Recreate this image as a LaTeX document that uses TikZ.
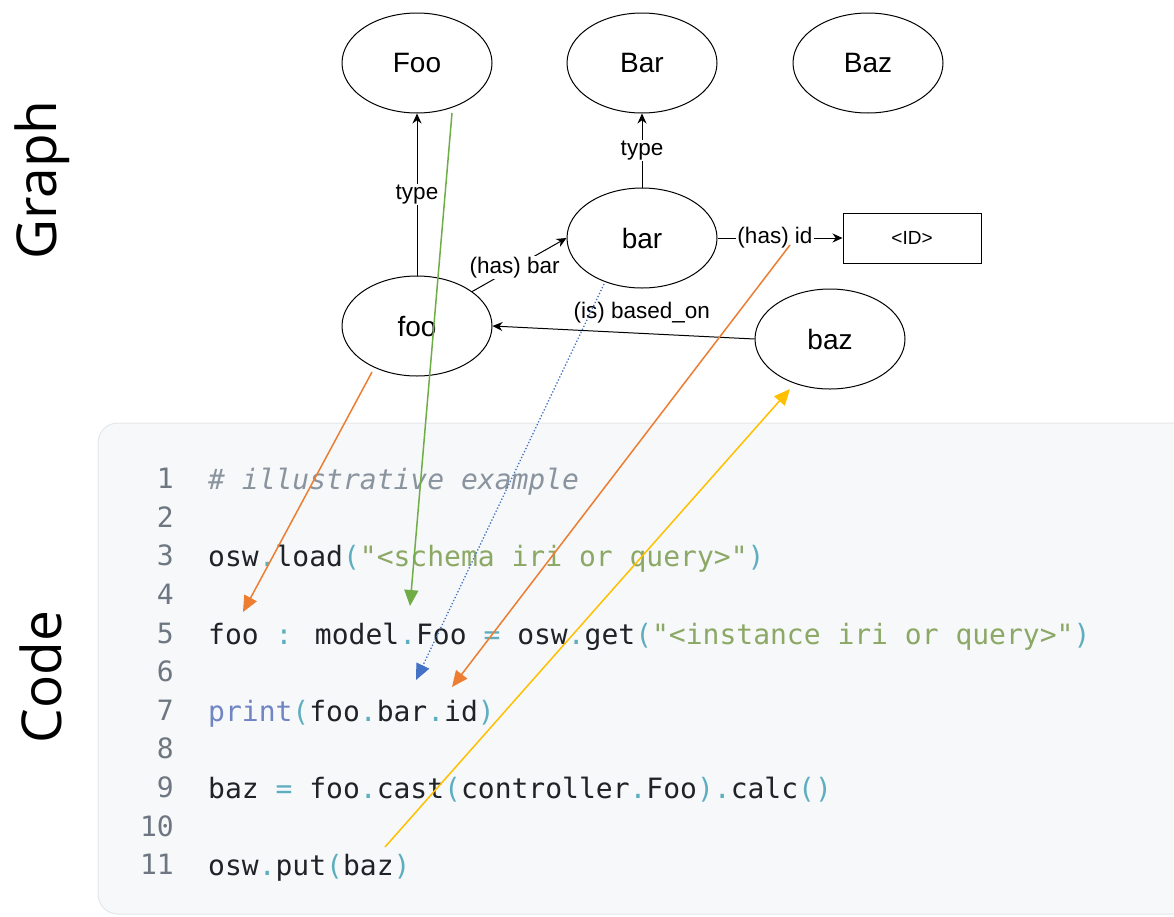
\documentclass[tikz,border=0pt]{standalone}
\usepackage{fontspec}
\setmainfont{Liberation Sans}
\newfontfamily\codefont{DejaVu Sans Mono}
\newfontfamily\labelfont{Open Sans}
\usetikzlibrary{shapes.geometric,arrows.meta}

\definecolor{codebg}{HTML}{F6F8FA}
\definecolor{codeborder}{HTML}{E4E6E9}
\definecolor{cplain}{HTML}{1F2328}
\definecolor{cpunct}{HTML}{5FAEBF}
\definecolor{cstring}{HTML}{8CA865}
\definecolor{ccomment}{HTML}{8A949E}
\definecolor{cbuiltin}{HTML}{7184C4}
\definecolor{clineno}{HTML}{6E7781}
\definecolor{aorange}{HTML}{ED7D31}
\definecolor{agreen}{HTML}{70AD47}
\definecolor{ablue}{HTML}{4472C4}
\definecolor{ayellow}{HTML}{FFC000}

% syntax colouring helpers
\newcommand\hlpun[1]{\textcolor{cpunct}{#1}}
\newcommand\hlstr[1]{\textcolor{cstring}{#1}}
\newcommand\hlbi[1]{\textcolor{cbuiltin}{#1}}
\newcommand\hlcom[1]{\textcolor{ccomment}{\itshape #1}}

\begin{document}
\begin{tikzpicture}[x=1pt,y=-1pt,
  gnode/.style={ellipse, draw, line width=1pt, minimum width=150pt, minimum height=100pt,
    inner sep=0pt, font=\fontsize{28}{30}\selectfont},
  valbox/.style={rectangle, draw, line width=1pt, minimum width=138pt, minimum height=50pt,
    inner sep=0pt, font=\fontsize{19}{22}\selectfont},
  edgelbl/.style={font=\fontsize{22.5}{25}\selectfont, fill=white, inner sep=1pt},
  rel/.style={line width=1pt, -{Stealth[length=10pt,width=9pt]}},
  link/.style={line width=1.5pt, -{Triangle[length=16pt,width=14pt]}},
  codeline/.style={anchor=mid west, inner sep=0pt, font=\codefont\fontsize{28}{30}\selectfont, text=cplain},
  lineno/.style={anchor=mid east, inner sep=0pt, font=\codefont\fontsize{28}{30}\selectfont, text=clineno},
  sidelbl/.style={rotate=90, anchor=base, inner sep=0pt, font=\labelfont\fontsize{55}{60}\selectfont}
]
\useasboundingbox (0,0) rectangle (1174,916);
\fill[white] (0,0) rectangle (1174,916);

% side captions
\node[sidelbl] (capgraph) at (56,180) {Graph};
\node[sidelbl] (capcode) at (61,677) {Code};

% code panel
\draw[codeborder, fill=codebg, rounded corners=20pt, line width=1pt] (98,423) rectangle (1210,914);

\foreach \n [count=\i from 0] in {1,...,11}
  \node[lineno] (ln\n) at (174,{486+\i*38.6}) {\n};

\node[codeline] (c1) at (208,487) {\hlcom{\# illustrative example}};
\node[codeline] (c3) at (208,564.2) {osw\hlpun{.}load\hlpun{(}\hlstr{"<schema iri or query>"}\hlpun{)}};
\node[codeline] (c5) at (208,641.4) {foo \hlpun{:} model\hlpun{.}Foo \hlpun{=} osw\hlpun{.}get\hlpun{(}\hlstr{"<instance iri or query>"}\hlpun{)}};
\node[codeline] (c7) at (208,718.6) {\hlbi{print}\hlpun{(}foo\hlpun{.}bar\hlpun{.}id\hlpun{)}};
\node[codeline] (c9) at (208,795.8) {baz \hlpun{=} foo\hlpun{.}cast\hlpun{(}controller\hlpun{.}Foo\hlpun{).}calc\hlpun{()}};
\node[codeline] (c11) at (208,873) {osw\hlpun{.}put\hlpun{(}baz\hlpun{)}};

% graph nodes
\node[gnode] (Foo) at (417,63) {Foo};
\node[gnode] (Bar) at (642,63) {Bar};
\node[gnode] (Baz) at (868,63) {Baz};
\node[gnode] (bar) at (642,238) {bar};
\node[gnode] (foo) at (417,326) {foo};
\node[gnode] (baz) at (830,339) {baz};
\node[valbox] (id) at (912,238) {<ID>};

% graph relations
\draw[rel] (foo.north) -- node[edgelbl] {type} (Foo.south);
\draw[rel] (bar.north) -- node[edgelbl] {type} (Bar.south);
\draw[rel] (foo.32) -- node[edgelbl, pos=0.45] {(has) bar} (bar.west);
\draw[rel] (bar.east) -- node[edgelbl, pos=0.46] {(has) id} (id.west);
\draw[rel] (baz.west) -- node[edgelbl, above=9pt, pos=0.43] {(is) based\_on} (foo.east);

% links between graph and code
\coordinate (fooref) at (372,372);
\coordinate (fooline) at (243,612);
\coordinate (Fooref) at (452,113);
\coordinate (Fooline) at (410,606);
\coordinate (barref) at (604,284);
\coordinate (barline) at (416,680);
\coordinate (idref) at (790,245);
\coordinate (idline) at (452,687);
\coordinate (putline) at (385,847);
\coordinate (bazref) at (790,389);

\draw[link, aorange] (fooref) -- (fooline);
\draw[link, agreen] (Fooref) -- (Fooline);
\draw[link, ablue, line width=1.3pt, dotted] (barref) -- (barline);
\draw[link, aorange] (idref) -- (idline);
\draw[link, ayellow] (putline) -- (bazref);
\end{tikzpicture}
\end{document}
